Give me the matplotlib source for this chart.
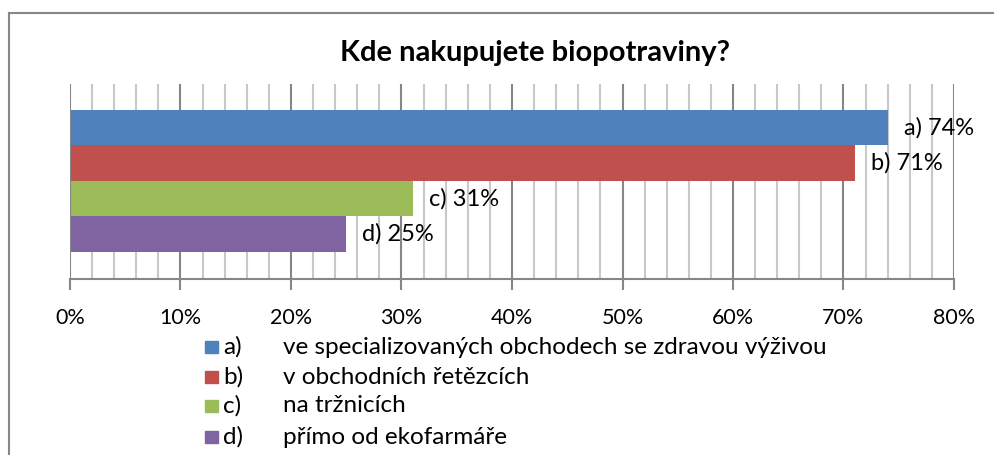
import matplotlib
matplotlib.use("Agg")
import matplotlib.pyplot as plt
from matplotlib.patches import Rectangle
from matplotlib.lines import Line2D
import numpy as np

title = "Kde nakupujete biopotraviny?"
letters = ["a)", "b)", "c)", "d)"]
descriptions = ["ve specializovaných obchodech se zdravou výživou",
                "v obchodních řetězcích",
                "na tržnicích",
                "přímo od ekofarmáře"]
values = [74, 71, 31, 25]
colors = ["#4F81BD", "#C0504D", "#9BBB59", "#8064A2"]
xticks = [0, 10, 20, 30, 40, 50, 60, 70, 80]

plt.rcParams['font.family'] = ['Lato', 'DejaVu Sans']

W, H = 995, 455
fig = plt.figure(figsize=(W / 100, H / 100), dpi=100)

# outer chart border (left and top visible)
fig.add_artist(Line2D([9 / W, 9 / W], [0, 1 - 13 / H], transform=fig.transFigure,
                      color="#868686", lw=1.5))
fig.add_artist(Line2D([9 / W, 1], [1 - 13 / H, 1 - 13 / H], transform=fig.transFigure,
                      color="#868686", lw=1.5))

x0, x1 = 70, 954
y_top, y_bot = 84, 279
ax = fig.add_axes([x0 / W, 1 - y_bot / H, (x1 - x0) / W, (y_bot - y_top) / H])

ypos = np.arange(len(values))[::-1]
ax.barh(ypos, values, height=1.0, color=colors, zorder=3)
ax.set_xlim(0, 80)
ax.set_ylim(-1.27, 4.22)

# gridlines
for v in np.arange(2, 81, 2):
    if v % 10 == 0:
        ax.axvline(v, color="#868686", lw=1.5, zorder=1)
    else:
        ax.axvline(v, color="#C8C8C8", lw=1.5, zorder=1)
ax.axvline(0, color="#868686", lw=1.5, zorder=4)

for s in ["top", "right", "left"]:
    ax.spines[s].set_visible(False)
ax.spines["bottom"].set_color("#868686")
ax.spines["bottom"].set_linewidth(1.5)
ax.set_yticks([])
ax.set_xticks(xticks)
ax.set_xticklabels([f"{t}%" for t in xticks], fontsize=15.5, color="black")
ax.tick_params(axis="x", length=8, width=1.5, color="#868686", pad=13)

for y, v, l in zip(ypos, values, letters):
    ax.annotate(f"{l} {v}%", xy=(v, y), xytext=(11.5, 0), textcoords="offset points",
                fontsize=17, va="center", ha="left")

fig.text(535 / W, 1 - 53 / H, title, fontsize=21, fontweight="bold",
         ha="center", va="center")

# legend
rows = [347, 377, 406, 437]
for y, l, d, c in zip(rows, letters, descriptions, colors):
    fig.add_artist(Rectangle((205 / W, 1 - (y + 6) / H), 13 / W, 12 / H,
                             transform=fig.transFigure, color=c))
    fig.text(223 / W, 1 - y / H, l, fontsize=17.5, va="center", ha="left")
    fig.text(283 / W, 1 - y / H, d, fontsize=17.5, va="center", ha="left")

fig.savefig("out.png", dpi=100)
